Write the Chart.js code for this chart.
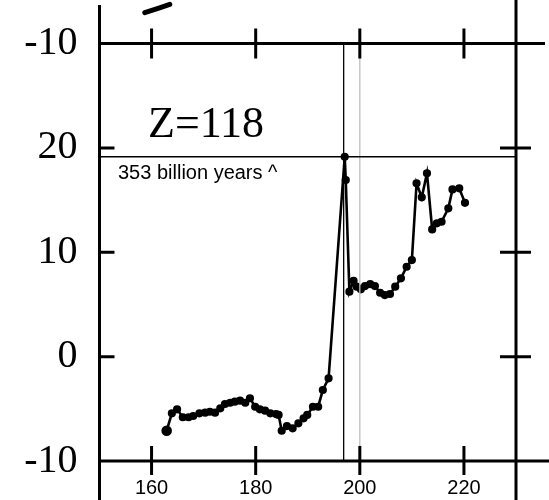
<!DOCTYPE html>
<html>
<head>
<meta charset="utf-8">
<script src="https://cdn.jsdelivr.net/npm/chart.js@4.4.1/dist/chart.umd.min.js"></script>
<style>
  html, body { margin: 0; padding: 0; background: #fff; }
  #wrap { width: 549px; height: 500px; position: relative; }
</style>
</head>
<body>
<div id="wrap"><canvas id="chart"></canvas></div>
<script>
// --- data ---
const massNumbers = [162.9, 163.9, 164.9, 166.0, 167.1, 168.0, 169.2, 170.3, 171.2, 172.2,
  173.2, 174.1, 175.1, 176.0, 177.0, 178.0, 178.9, 179.9, 180.8, 181.8,
  182.8, 183.9, 184.4, 185.0, 186.0, 187.1, 188.2, 189.2, 189.9, 191.0,
  192.0, 192.9, 194.0, 197.1, 197.3, 198.0, 198.8, 199.4, 200.2, 201.0,
  202.0, 202.9, 203.9, 204.8, 205.8, 206.8, 207.9, 209.0, 210.0, 210.9,
  211.9, 212.9, 213.9, 214.8, 215.7, 217.0, 217.8, 219.1, 220.2];
const logHalfLife = [-7.1, -5.43, -5.05, -5.81, -5.81, -5.69, -5.43, -5.37, -5.28, -5.37,
  -4.95, -4.54, -4.42, -4.32, -4.22, -4.42, -3.99, -4.8, -5.05, -5.18,
  -5.43, -5.5, -5.59, -7.1, -6.65, -6.87, -6.39, -5.91, -5.59, -4.8,
  -4.8, -3.2, -2.08, 19.15, 16.92, 6.22, 7.27, 6.7, 6.45, 6.76,
  6.95, 6.76, 6.12, 5.9, 6.0, 6.7, 7.5, 8.61, 9.25, 16.6,
  15.26, 17.56, 12.19, 12.77, 12.92, 14.21, 16.02, 16.12, 14.74];

// stroke of the panel above that pokes into view
const upperX = [158.7, 161.4, 163.5];
const upperY = [32.95, 33.4, 33.75];

const xTicks = [160, 180, 200, 220];
const yTicks = [-10, 0, 10, 20, 30];
const yTickLabels = ['-10', '0', '10', '20', '-10'];

const peakValue = 19.15;     // horizontal guide
const peakX = 196.9;         // black vertical guide
const refX = 200;            // grey vertical guide

// frame, tick marks, guides and labels
const framePlugin = {
  id: 'frame',
  afterDatasetsDraw(chart) {
    const { ctx, scales: { x, y } } = chart;
    const L = x.getPixelForValue(150), R = x.getPixelForValue(230);
    const T = y.getPixelForValue(30), B = y.getPixelForValue(-10);
    ctx.save();

    // guides
    ctx.lineWidth = 1.3;
    ctx.strokeStyle = '#bdbdbd';
    ctx.beginPath();
    ctx.moveTo(x.getPixelForValue(refX), T);
    ctx.lineTo(x.getPixelForValue(refX), B);
    ctx.stroke();
    ctx.strokeStyle = '#000';
    ctx.beginPath();
    ctx.moveTo(x.getPixelForValue(peakX), T);
    ctx.lineTo(x.getPixelForValue(peakX), B);
    ctx.moveTo(L, y.getPixelForValue(peakValue));
    ctx.lineTo(R, y.getPixelForValue(peakValue));
    ctx.stroke();

    // frame lines
    ctx.lineWidth = 3;
    ctx.lineCap = 'butt';
    ctx.beginPath();
    ctx.moveTo(L, 5); ctx.lineTo(L, 500);
    ctx.moveTo(R, 0); ctx.lineTo(R, 500);
    ctx.moveTo(L, T); ctx.lineTo(545, T);
    ctx.moveTo(L, B); ctx.lineTo(549, B);
    xTicks.forEach(v => {
      const px = x.getPixelForValue(v);
      ctx.moveTo(px, T - 15); ctx.lineTo(px, T + 15);
      ctx.moveTo(px, B - 15); ctx.lineTo(px, B + 14);
    });
    [0, 10, 20].forEach(v => {
      const py = y.getPixelForValue(v);
      ctx.moveTo(L, py); ctx.lineTo(L + 15, py);
      ctx.moveTo(R - 16, py); ctx.lineTo(R + 15, py);
    });
    ctx.stroke();

    // text
    ctx.fillStyle = '#000';
    ctx.textBaseline = 'alphabetic';
    ctx.textAlign = 'left';
    ctx.font = '44px "Liberation Serif"';
    ctx.fillText('Z=118', 148, 137);
    ctx.font = '20px "Liberation Sans"';
    ctx.fillText('353 billion years ^', 118, 179);
    ctx.restore();
  }
};

new Chart(document.getElementById('chart').getContext('2d'), {
  type: 'scatter',
  data: {
    datasets: [{
      data: massNumbers.map((v, i) => ({ x: v, y: logHalfLife[i] })),
      showLine: true,
      borderColor: '#000',
      backgroundColor: '#000',
      borderWidth: 2.6,
      pointRadius: c => c.dataIndex === 0 ? 4 : 2.8,
      pointHoverRadius: 3,
      tension: 0
    }, {
      data: upperX.map((v, i) => ({ x: v, y: upperY[i] })),
      showLine: true,
      borderColor: '#000',
      borderWidth: 5,
      borderCapStyle: 'round',
      pointRadius: 0,
      clip: false
    }]
  },
  options: {
    responsive: true,
    maintainAspectRatio: false,
    animation: false,
    layout: { padding: { top: 43.5, right: 33, left: 0, bottom: 0 } },
    plugins: { legend: { display: false }, tooltip: { enabled: false } },
    scales: {
      x: {
        type: 'linear',
        min: 150,
        max: 230,
        grid: { display: false },
        border: { display: false },
        afterBuildTicks: s => { s.ticks = xTicks.map(v => ({ value: v })); },
        afterFit: s => { s.height = 39; },
        ticks: {
          padding: 7,
          color: '#000',
          font: { family: '"Liberation Sans"', size: 20 },
          callback: v => String(v)
        }
      },
      y: {
        type: 'linear',
        min: -10,
        max: 30,
        grid: { display: false },
        border: { display: false },
        afterBuildTicks: s => { s.ticks = yTicks.map(v => ({ value: v })); },
        afterFit: s => { s.width = 99.5; },
        ticks: {
          padding: 14,
          color: '#000',
          font: { family: '"Liberation Serif"', size: 40 },
          callback: v => yTickLabels[yTicks.indexOf(v)]
        }
      }
    }
  },
  plugins: [framePlugin]
});
</script>
</body>
</html>
